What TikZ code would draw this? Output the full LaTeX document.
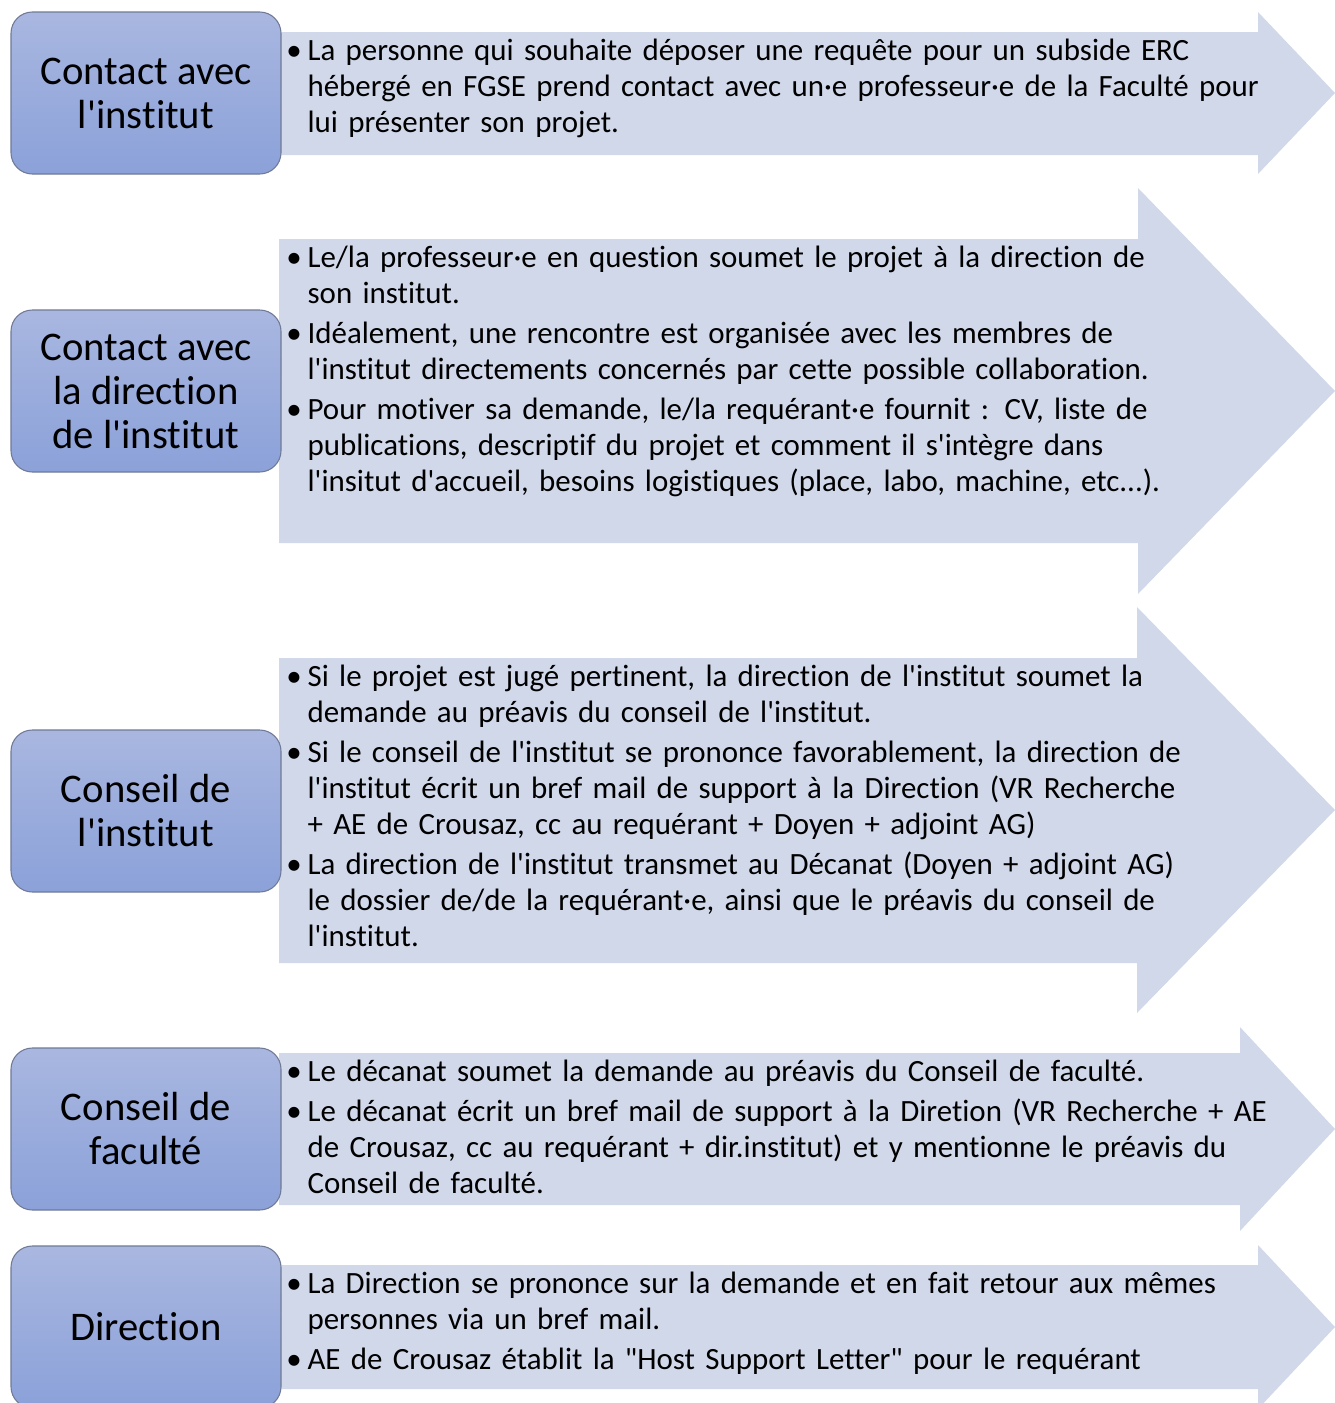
\documentclass[tikz,border=0pt]{standalone}
\usepackage{fontspec}
\setmainfont{Carlito}[Ligatures={TeXOff,NoCommon}]

\definecolor{flechefond}{RGB}{208,216,234}
\definecolor{etapehaut}{RGB}{169,183,224}
\definecolor{etapebas}{RGB}{139,161,217}
\definecolor{etapebord}{RGB}{112,122,150}

\newcommand{\puce}[1]{\par\hangindent=16pt\hangafter=1\noindent\strut\makebox[16pt][l]{\textbullet}#1\par}

\begin{document}
\begin{tikzpicture}[x=0.75pt,y=-0.75pt,
	fleche/.style={fill=flechefond,draw=none},
	etape/.style={rounded corners=16pt,top color=etapehaut,bottom color=etapebas,draw=etapebord,line width=0.8pt,
		minimum width=202.5pt,minimum height=121.5pt,inner sep=0pt,align=center,
		font=\fontsize{30.5}{33}\selectfont},
	puces/.style={anchor=north west,inner sep=0pt,text width=800pt,
		font=\fontsize{23.2}{27}\selectfont\setlength{\parskip}{3pt}}]
	\useasboundingbox (0,0) rectangle (1335,1403);
	\clip (0,0) rectangle (1335,1403);

	% fleches
	\fill[fleche] (279,32) -- (1258,32) -- (1258,12) -- (1335,93) -- (1258,174) -- (1258,155) -- (279,155) -- cycle;
	\fill[fleche] (279,239) -- (1138,239) -- (1138,188) -- (1335,391) -- (1138,594) -- (1138,543) -- (279,543) -- cycle;
	\fill[fleche] (279,658) -- (1137,658) -- (1137,607) -- (1335,810) -- (1137,1013) -- (1137,963) -- (279,963) -- cycle;
	\fill[fleche] (279,1053) -- (1240,1053) -- (1240,1027) -- (1335,1129) -- (1240,1231) -- (1240,1205) -- (279,1205) -- cycle;
	\fill[fleche] (279,1265) -- (1258,1265) -- (1258,1245) -- (1335,1327) -- (1258,1409) -- (1258,1389) -- (279,1389) -- cycle;

	% etapes
	\node[etape] (contact) at (146,93) {Contact avec\\l'institut};
	\node[etape] (direction) at (146,391) {Contact avec\\la direction\\de l'institut};
	\node[etape] (conseil) at (146,811) {Conseil de\\l'institut};
	\node[etape] (faculte) at (146,1129) {Conseil de\\facult\'e};
	\node[etape] (rectorat) at (146,1327) {Direction};

	% textes
	\node[puces] (t1) at (286,20) {
		\puce{La personne qui souhaite déposer une requête pour un subside ERC\newline hébergé en FGSE prend contact avec un·e professeur·e de la Faculté pour\newline lui présenter son projet.}};
	\node[puces] (t2) at (286,227) {
		\puce{Le/la professeur·e en question soumet le projet à la direction de\newline son institut.}
		\puce{Idéalement, une rencontre est organisée avec les membres de\newline l'institut directements concernés par cette possible collaboration.}
		\puce{Pour motiver sa demande, le/la requérant·e fournit : CV, liste de\newline publications, descriptif du projet et comment il s'intègre dans\newline l'insitut d'accueil, besoins logistiques (place, labo, machine, etc...).}};
	\node[puces] (t3) at (286,646) {
		\puce{Si le projet est jugé pertinent, la direction de l'institut soumet la\newline demande au préavis du conseil de l'institut.}
		\puce{Si le conseil de l'institut se prononce favorablement, la direction de\newline l'institut écrit un bref mail de support à la Direction (VR Recherche\newline + AE de Crousaz, cc au requérant + Doyen + adjoint AG)}
		\puce{La direction de l'institut transmet au Décanat (Doyen + adjoint AG)\newline le dossier de/de la requérant·e, ainsi que le préavis du conseil de\newline l'institut.}};
	\node[puces] (t4) at (286,1041) {
		\puce{Le décanat soumet la demande au préavis du Conseil de faculté.}
		\puce{Le décanat écrit un bref mail de support à la Diretion (VR Recherche + AE\newline de Crousaz, cc au requérant + dir.institut) et y mentionne le préavis du\newline Conseil de faculté.}};
	\node[puces] (t5) at (286,1253) {
		\puce{La Direction se prononce sur la demande et en fait retour aux mêmes\newline personnes via un bref mail.}
		\puce{AE de Crousaz établit la "Host Support Letter" pour le requérant}};
\end{tikzpicture}
\end{document}
